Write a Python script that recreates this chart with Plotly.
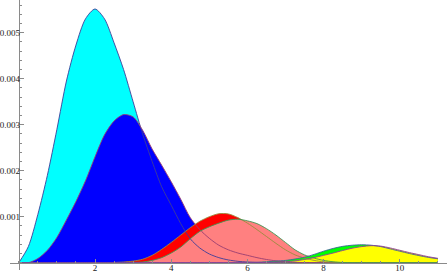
import plotly.graph_objects as go

# x grid (step 0.25 from 0 to 11)
x_vals = [i * 0.25 for i in range(45)]

# curve values in units of 1e-3
cyan_vals = [0, 0.35, 1.05, 1.9, 2.9, 3.95, 4.73, 5.3, 5.515, 5.3, 4.78, 4.2, 3.5, 2.8, 2.2, 1.65,
             1.25, 0.85, 0.52, 0.32, 0.19, 0.11, 0.06, 0.03, 0.015, 0.005] + [0] * 19
blue_vals = [0, 0, 0.09, 0.27, 0.55, 0.93, 1.33, 1.78, 2.3, 2.78, 3.08, 3.22, 3.17, 2.88, 2.47,
             2.12, 1.76, 1.38, 0.98, 0.72, 0.53, 0.38, 0.28, 0.21, 0.16, 0.11, 0.07, 0.04, 0.02,
             0.01] + [0] * 15
red_vals = [0] * 10 + [0.005, 0.015, 0.035, 0.075, 0.16, 0.29, 0.44, 0.6, 0.76, 0.9, 1.0, 1.065,
                       1.06, 0.98, 0.86, 0.72, 0.57, 0.42, 0.28, 0.17, 0.1, 0.05, 0.02, 0.01] + [0] * 11
pink_vals = [0] * 12 + [0.005, 0.015, 0.05, 0.11, 0.21, 0.34, 0.52, 0.68, 0.78, 0.86, 0.925, 0.945,
                        0.91, 0.85, 0.74, 0.6, 0.44, 0.28, 0.17, 0.1, 0.05, 0.02, 0.005] + [0] * 10
green_vals = [0] * 24 + [0.005, 0.01, 0.02, 0.035, 0.05, 0.08, 0.12, 0.18, 0.25, 0.31, 0.355, 0.38,
                         0.39, 0.38, 0.35, 0.3, 0.25, 0.2, 0.155, 0.115, 0.085]
yellow_vals = [0] * 26 + [0.005, 0.01, 0.02, 0.04, 0.07, 0.11, 0.16, 0.21, 0.265, 0.315, 0.35, 0.37,
                          0.36, 0.32, 0.27, 0.22, 0.175, 0.13, 0.095]

series = [
    ("cyan", cyan_vals, "#00ffff", "#3d3d99"),
    ("blue", blue_vals, "#0000ff", "#993d71"),
    ("red", red_vals, "#ff0000", "#998b3d"),
    ("pink", pink_vals, "#ff8080", "#3d9954"),
    ("green", green_vals, "#00ff00", "#3d6399"),
    ("yellow", yellow_vals, "#ffff00", "#8f3d99"),
]

x_ticks = [2, 4, 6, 8, 10]
y_ticks = [0.001, 0.002, 0.003, 0.004, 0.005]
y_tick_text = ["0.001", "0.002", "0.003", "0.004", "0.005"]

fig = go.Figure()
for name, vals, fillc, linec in series:
    fig.add_trace(go.Scatter(
        x=x_vals, y=[v * 1e-3 for v in vals], mode="lines",
        line=dict(width=0, shape="spline", smoothing=0.8, color=fillc),
        fill="tozeroy", fillcolor=fillc, hoverinfo="skip", showlegend=False))
for name, vals, fillc, linec in series:
    fig.add_trace(go.Scatter(
        x=x_vals, y=[v * 1e-3 for v in vals], mode="lines",
        line=dict(width=0.9, shape="spline", smoothing=0.8, color=linec),
        hoverinfo="skip", showlegend=False))

W, H = 448, 273
ml, mr, mt, mb = 10, 1, 0, 3
px_per_x = 38.1
px_per_y = 46000.0
x0_px, y0_px = 18.8, 262.7
xr = [-(x0_px - ml) / px_per_x, (W - mr - x0_px) / px_per_x]
yr = [-(H - mb - y0_px) / px_per_y, (y0_px - mt) / px_per_y]
xpos = (0 - xr[0]) / (xr[1] - xr[0])
ypos = (0 - yr[0]) / (yr[1] - yr[0])

axis_col = "#8a8a8a"
tick_font = dict(family="Liberation Serif", size=9, color="#222")

fig.update_layout(
    width=W, height=H, template="none",
    margin=dict(l=ml, r=mr, t=mt, b=mb, pad=0),
    paper_bgcolor="white", plot_bgcolor="white",
    showlegend=False,
    xaxis=dict(range=xr, anchor="free", position=ypos, showline=True, linecolor=axis_col,
               linewidth=1, showgrid=False, zeroline=False, ticks="inside", ticklen=4,
               tickcolor=axis_col, tickmode="array", tickvals=x_ticks,
               ticktext=[str(t) for t in x_ticks], tickfont=tick_font, automargin=False,
               ticklabelstandoff=-4,
               minor=dict(ticks="inside", ticklen=2, tickcolor=axis_col, dtick=0.5, tick0=0,
                          showgrid=False)),
    yaxis=dict(range=yr, anchor="free", position=xpos, showline=True, linecolor=axis_col,
               linewidth=1, showgrid=False, zeroline=False, ticks="inside", ticklen=4,
               tickcolor=axis_col, tickmode="array", tickvals=y_ticks, ticktext=y_tick_text,
               tickfont=tick_font, automargin=False, ticklabelstandoff=-3,
               minor=dict(ticks="inside", ticklen=2, tickcolor=axis_col, dtick=0.0002, tick0=0,
                          showgrid=False)),
)

fig.write_html("out.html", config={"displayModeBar": False, "staticPlot": True},
               post_script="document.body.style.margin='0';document.body.style.overflow='hidden';")
